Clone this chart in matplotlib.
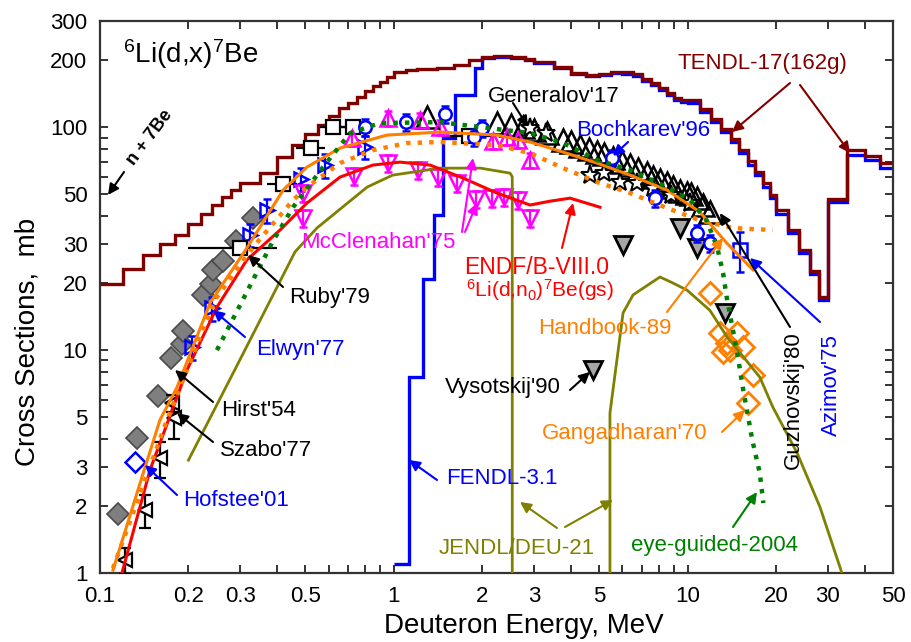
import numpy as np
import matplotlib
matplotlib.use('Agg')
import matplotlib.pyplot as plt
from matplotlib.ticker import FixedLocator, FixedFormatter, NullFormatter

plt.rcParams['font.family'] = ['Liberation Sans', 'DejaVu Sans']
plt.rcParams['mathtext.fontset'] = 'custom'
plt.rcParams['mathtext.rm'] = 'Liberation Sans'
plt.rcParams['mathtext.it'] = 'Liberation Sans:italic'
plt.rcParams['mathtext.bf'] = 'Liberation Sans:bold'
plt.rcParams['mathtext.default'] = 'rm'

# ---------------- evaluated libraries (histograms) ----------------
tendl_edges = [0.10, 0.12, 0.14, 0.16, 0.18, 0.20, 0.22, 0.24, 0.26, 0.28, 0.30,
               0.35, 0.40, 0.45, 0.50, 0.55, 0.60, 0.65, 0.70, 0.75, 0.80, 0.85, 0.90, 0.95, 1.0,
               1.1, 1.2, 1.4, 1.6, 1.8, 2.0,
               2.2, 2.5, 2.8, 3.0,
               3.5, 4.0, 4.5, 5.0, 5.5, 6.0, 6.5, 7.0, 7.5, 8.0, 8.5, 9.0, 9.5, 10,
               11, 12, 13, 14, 15, 16, 17, 18, 19, 20,
               22, 24, 26, 28, 30,
               35, 40, 45, 50]
tendl_vals = [19.8, 23.1, 26.7, 29.9, 32.8, 36.8, 40.8, 44.8, 48.6, 52.3,
              56.2, 62.5, 73.5, 83.2, 93.2, 102, 112, 122, 128, 137, 145, 153, 160, 168,
              177, 181, 183, 184, 190, 200,
              206, 208, 206, 202,
              196, 186, 175, 172, 174, 177, 177, 174, 164, 158, 150, 142, 135, 133,
              132, 121, 109, 98, 88.5, 79, 70.5, 63, 56, 49.6,
              42.5, 34.6, 28.1, 22.6, 17.3,
              47.6, 79, 74, 69]

fendl_edges = [1.0, 1.13, 1.26, 1.37, 1.47, 1.62, 1.89, 2.0,
               2.2, 2.5, 2.8, 3.0,
               3.5, 4.0, 4.5, 5.0, 5.5, 6.0, 6.5, 7.0, 7.5, 8.0, 8.5, 9.0, 9.5, 10,
               11, 12, 13, 14, 15, 16, 17, 18, 19, 20,
               22, 24, 26, 28, 30,
               35, 40, 45, 50]
fendl_vals = [1.1, 7.6, 20.8, 40.4, 90, 139, 184,
              205, 207, 205, 201,
              195, 185, 173, 170, 172, 175, 174, 170, 161, 155, 147, 139, 132, 130,
              128, 117, 106, 95, 86, 76.5, 68, 61, 54, 48,
              41, 33.5, 27.2, 21.9, 16.8,
              46.3, 75, 71, 66]

# ---------------- evaluated / guided curves ----------------
jendl_e1 = [0.20, 0.30, 0.461, 0.547, 0.811, 0.99, 1.436, 1.97, 2.486, 2.53, 2.53]
jendl_s1 = [3.21, 9.1, 27.6, 35.3, 53.9, 61.0, 65.6, 65.6, 62.3, 60.0, 0.5]
jendl_e2 = [5.44, 5.44, 6.03, 6.52, 8.05, 8.92, 9.95, 11.9, 13.6, 17.6, 19.5, 23.6, 28.2, 33.5, 36.0]
jendl_s2 = [0.5, 5.22, 14.7, 17.7, 21.3, 20.0, 18.6, 15.1, 11.5, 7.57, 5.55, 3.45, 1.98, 1.0, 0.8]

endf_e = [0.1188, 0.148, 0.1977, 0.25, 0.316, 0.41, 0.506, 0.656, 0.849, 1.05, 1.328,
          1.72, 2.245, 2.91, 3.4, 3.98, 5.03]
endf_s = [1.0, 2.9, 8.14, 15.6, 25.4, 34.6, 45.7, 59.8, 67.7, 69.8, 67.7,
          59.2, 50.7, 44.8, 46.6, 48.1, 43.8]

handbook_e = [0.1107, 0.139, 0.16, 0.183, 0.237, 0.316, 0.42, 0.506, 0.656, 0.948, 1.436,
              2.245, 2.91, 3.77, 4.92, 6.37, 8.51, 11.0, 13.6, 16.7]
handbook_s = [1.03, 2.70, 4.86, 6.83, 16.3, 28.7, 52.3, 66.3, 80.7, 92.3, 95.2,
              92.3, 85.9, 77.4, 69.1, 61.0, 52.3, 41.7, 30.2, 22.9]

dotted_e = [0.1107, 0.169, 0.246, 0.332, 0.454, 0.506, 0.656, 0.849, 1.109, 1.436,
            2.245, 2.91, 3.77, 4.92, 6.37, 8.51, 11.0, 14.3, 19.5]
dotted_s = [1.05, 4.86, 16.8, 29.0, 47.1, 53.9, 69.1, 79.0, 85.0, 85.9,
            83.2, 76.6, 65.6, 56.8, 50.7, 43.4, 38.3, 35.3, 34.6]

eye_e = [0.25, 0.388, 0.454, 0.574, 0.71, 0.897, 1.436, 2.91, 3.77, 4.92, 6.37, 8.51,
         10.2, 11.6, 12.6, 13.2, 13.6, 14.7, 15.4, 16.6, 17.6, 18.1]
eye_s = [10.0, 30.9, 43.8, 66.3, 94.2, 104.5, 105.5, 94.2, 85.0, 71.3, 64.3, 53.9,
         47.1, 38.3, 29.0, 22.2, 17.1, 10.0, 6.83, 3.95, 2.81, 2.06]

# ---------------- experimental data ----------------
hirst_e = [0.1152, 0.1336, 0.1576, 0.1745, 0.190, 0.1915, 0.224, 0.2387, 0.2425, 0.2622, 0.2903, 0.332]
hirst_s = [1.84, 4.03, 6.22, 9.2, 10.65, 12.2, 17.7, 19.8, 22.9, 25.1, 30.9, 39.1]

szabo_e = [0.122, 0.1423, 0.160, 0.176, 0.178]
szabo_s = [1.14, 1.92, 3.28, 5.8, 4.95]
szabo_err = [0.15, 0.33, 0.6, 0.5, 0.95]

hofstee_e = [0.1316]
hofstee_s = [3.15]

elwyn_e = [0.206, 0.241, 0.324, 0.37, 0.485, 0.583, 0.798]
elwyn_s = [10.3, 15.4, 33.0, 42.5, 58.6, 67.5, 81.5]

ruby_e = [0.30, 0.42, 0.523, 0.621, 0.727, 1.80]
ruby_s = [28.7, 55.6, 80.7, 100.0, 100.0, 91.0]
ruby_xerr = [0.10, 0.05, 0.06, 0.06, 0.12, 0.35]

mcc_up_e = [0.72, 0.956, 1.228, 1.436, 2.175, 2.43, 2.65, 2.91]
mcc_up_s = [89.4, 110, 107.7, 100, 86.7, 90.4, 87.6, 71.3]

mcc_dn_e = [0.49, 0.49, 0.73, 0.956, 1.21, 1.41, 1.64, 1.905, 2.16, 2.38, 2.65, 2.91]
mcc_dn_s = [50.7, 39.1, 60.3, 69.0, 64.3, 59.8, 56.2, 47.6, 48.0, 48.5, 47.1, 39.1]

boch_e = [0.798, 1.10, 1.494, 1.875, 2.0, 5.53, 7.74, 10.76, 11.9]
boch_s = [100.2, 105.5, 114.6, 90.4, 99.2, 72.8, 48.1, 33.5, 30.2]

azimov_e = [15.1]
azimov_s = [28.1]

guzh_e = [1.297, 2.245, 2.5, 2.754, 3.0, 3.32, 3.77, 4.0, 4.30, 4.6, 4.92, 5.2, 5.57, 6.0, 6.37,
          6.8, 7.28, 7.6, 8.05, 8.5, 8.92, 9.4, 9.95, 10.3, 10.76, 11.3, 11.9]
guzh_s = [111, 104.5, 102, 100, 97, 94.2, 87.6, 86, 82.4, 80, 77.4, 76, 72.8, 70, 67.7,
          65, 62.3, 60, 58, 56, 53.9, 52, 50.7, 50, 48.1, 45, 41.7]

gener_e = [2.91, 3.3, 4.66, 5.2, 5.87, 6.7, 7.6, 8.8, 10.2]
gener_s = [99.2, 94, 61, 62.3, 56.8, 56.2, 53.3, 49.6, 45.7]

vys_e = [4.76, 6.03, 9.42, 10.76, 13.4]
vys_s = [8.14, 29.6, 35.3, 28.7, 14.7]

gang_e = [11.92, 12.9, 14.7, 13.6, 15.4, 13.2, 13.9, 16.7, 16.05]
gang_s = [18.0, 11.9, 12.0, 10.8, 10.3, 9.8, 10.0, 7.73, 5.79]

xtick_vals = [0.1, 0.2, 0.3, 0.5, 1, 2, 3, 5, 10, 20, 30, 50]
xtick_labels = ['0.1', '0.2', '0.3', '0.5', '1', '2', '3', '5', '10', '20', '30', '50']
ytick_vals = [1, 2, 3, 5, 10, 20, 30, 50, 100, 200, 300]
ytick_labels = ['1', '2', '3', '5', '10', '20', '30', '50', '100', '200', '300']

# ---------------- figure ----------------
W, H = 912, 642
fig = plt.figure(figsize=(W / 100, H / 100), dpi=100)
L, R, T, B = 100, 893, 21, 573
ax = fig.add_axes([L / W, (H - B) / H, (R - L) / W, (B - T) / H])
ax.set_xscale('log')
ax.set_yscale('log')
ax.set_xlim(0.1, 50)
ax.set_ylim(1, 300)

RED = '#ff0000'
ORANGE = '#ff8000'
GREEN = '#008000'
OLIVE = '#808000'
MAROON = '#800000'
BLUE = '#0000ff'
MAG = '#ff00ff'

# histograms
ax.stairs(fendl_vals, fendl_edges, color=BLUE, lw=2.4, baseline=None, zorder=2)
ax.stairs(tendl_vals, tendl_edges, color=MAROON, lw=2.4, baseline=None, zorder=2.1)

# curves
ax.plot(jendl_e1, jendl_s1, color=OLIVE, lw=2.0, zorder=4)
ax.plot(jendl_e2, jendl_s2, color=OLIVE, lw=2.0, zorder=4)
ax.plot(endf_e, endf_s, color=RED, lw=2.2, zorder=4)
ax.plot(handbook_e, handbook_s, color=ORANGE, lw=2.2, zorder=4)
ax.plot(dotted_e, dotted_s, color=ORANGE, lw=3.2, ls=(0, (1, 1.6)), zorder=4)
ax.plot(eye_e, eye_s, color=GREEN, lw=3.2, ls=(0, (1, 1.6)), zorder=4)

# experimental points
ax.plot(hirst_e, hirst_s, ls='none', marker='D', ms=11, mfc='#7f7f7f', mec='#4a4a4a', mew=1.2, zorder=3)
ax.errorbar(szabo_e, szabo_s, yerr=szabo_err, fmt='<', ms=10, mfc='white', mec='black', mew=1.6,
            ecolor='black', elinewidth=1.6, capsize=4, zorder=3)
ax.plot(hofstee_e, hofstee_s, ls='none', marker='D', ms=10, mfc='white', mec=BLUE, mew=1.8, zorder=3)
ax.errorbar(elwyn_e, elwyn_s, yerr=np.array(elwyn_s) * 0.12, fmt='>', ms=10, mfc='none', mec=BLUE,
            mew=1.8, ecolor=BLUE, elinewidth=1.6, capsize=3, zorder=3)
ax.errorbar(ruby_e, ruby_s, xerr=ruby_xerr, fmt='s', ms=10, mfc='white', mec='black', mew=1.6,
            ecolor='black', elinewidth=1.6, capsize=0, zorder=3)
ax.errorbar(mcc_up_e, mcc_up_s, yerr=np.array(mcc_up_s) * 0.08, fmt='^', ms=11, mfc='none', mec=MAG,
            mew=1.8, ecolor=MAG, elinewidth=1.6, capsize=3, zorder=3)
ax.errorbar(mcc_dn_e, mcc_dn_s, yerr=np.array(mcc_dn_s) * 0.09, fmt='v', ms=11, mfc='none', mec=MAG,
            mew=1.8, ecolor=MAG, elinewidth=1.6, capsize=3, zorder=3)
ax.plot(guzh_e, guzh_s, ls='none', marker='^', ms=16, mfc='none', mec='black', mew=1.8, zorder=3)
ax.plot(gener_e, gener_s, ls='none', marker='*', ms=14, mfc='white', mec='black', mew=1.5, zorder=3.2)
ax.errorbar(boch_e, boch_s, yerr=np.array(boch_s) * 0.09, fmt='o', ms=9, mfc='white', mec=BLUE, mew=1.8,
            ecolor=BLUE, elinewidth=1.6, capsize=3, zorder=3.3)
ax.errorbar(azimov_e, azimov_s, yerr=[[5.7], [5.8]], fmt='s', ms=10, mfc='none', mec=BLUE, mew=1.8,
            ecolor=BLUE, elinewidth=1.6, capsize=3, zorder=3.3)
ax.plot(vys_e, vys_s, ls='none', marker='v', ms=13, mfc='#a6a6a6', mec='black', mew=2.0, zorder=3)
ax.plot(gang_e, gang_s, ls='none', marker='D', ms=11, mfc='none', mec=ORANGE, mew=2.0, zorder=3)

# ---------------- axes styling ----------------
minor_x = [v * d for d in (0.1, 1, 10) for v in range(2, 10) if v * d <= 50]
ax.xaxis.set_major_locator(FixedLocator(xtick_vals))
ax.xaxis.set_major_formatter(FixedFormatter(xtick_labels))
ax.xaxis.set_minor_locator(FixedLocator([m for m in minor_x if m not in xtick_vals]))
ax.xaxis.set_minor_formatter(NullFormatter())
ax.yaxis.set_major_locator(FixedLocator(ytick_vals))
ax.yaxis.set_major_formatter(FixedFormatter(ytick_labels))
minor_y = [v * d for d in (1, 10, 100) for v in range(2, 10) if v * d <= 300]
ax.yaxis.set_minor_locator(FixedLocator([m for m in minor_y if m not in ytick_vals]))
ax.yaxis.set_minor_formatter(NullFormatter())
ax.tick_params(which='both', direction='in', top=True, right=True, width=1.4, color='#333333',
               labelsize=16)
ax.tick_params(axis='x', which='major', pad=9)
ax.tick_params(axis='y', which='major', pad=9)
ax.tick_params(which='major', length=6)
ax.tick_params(which='minor', length=6)
for t in ax.xaxis.get_major_ticks():
    if t.get_loc() in (1, 10):
        t.tick1line.set_markersize(10)
        t.tick2line.set_markersize(10)
for t in ax.yaxis.get_major_ticks():
    if t.get_loc() in (10, 100):
        t.tick1line.set_markersize(10)
        t.tick2line.set_markersize(10)
for s in ax.spines.values():
    s.set_linewidth(1.6)
    s.set_color('#333333')

fig.text(524 / W, 1 - 626 / H, 'Deuteron Energy, MeV', fontsize=20, ha='center', va='center')
fig.text(28 / W, 1 - 342 / H, 'Cross Sections,  mb', fontsize=20, ha='center', va='center',
         rotation=90)


def P(x, y):
    return ((x - L) / (R - L), (B - y) / (B - T))


ax.text(*P(123, 54), r'$^{6}$Li(d,x)$^{7}$Be', transform=ax.transAxes, fontsize=20,
        ha='left', va='center')

labels = [
    ("TENDL-17(162g)", (762, 63), MAROON, 16, 0, [((790, 83), (732, 132)), ((800, 85), (850, 153))]),
    ("Generalov'17", (554, 96), 'black', 16, 0, [((513, 103), (528, 127))]),
    ("Bochkarev'96", (643, 130), BLUE, 16, 0, [((628, 142), (613, 156))]),
    ("McClenahan'75", (378, 242), MAG, 16, 0, [((462, 232), (473, 158)), ((465, 232), (477, 203))]),
    ("ENDF/B-VIII.0", (537, 267), RED, 16.5, 0, [((562, 248), (573, 203))]),
    ("Ruby'79", (330, 298), 'black', 16, 0, [((283, 287), (248, 255))]),
    ("Elwyn'77", (300, 349), BLUE, 16, 0, [((245, 337), (213, 310))]),
    ("Hirst'54", (259, 410), 'black', 16, 0, [((213, 402), (175, 370))]),
    ("Szabo'77", (266, 450), 'black', 16, 0, [((213, 442), (177, 413))]),
    ("Hofstee'01", (236, 500), BLUE, 16, 0, [((177, 495), (145, 465))]),
    ("FENDL-3.1", (502, 479), BLUE, 16, 0, [((437, 480), (409, 460))]),
    ("JENDL/DEU-21", (517, 548), OLIVE, 16, 0, [((557, 528), (520, 502)), ((565, 527), (613, 500))]),
    ("eye-guided-2004", (715, 545), GREEN, 16, 0, [((733, 527), (757, 492))]),
    ("Gangadharan'70", (625, 433), ORANGE, 16, 0, [((722, 432), (745, 410))]),
    ("Handbook-89", (605, 328), ORANGE, 16, 0, [((667, 312), (723, 238))]),
    ("Vysotskij'90", (503, 387), 'black', 16, 0, [((570, 390), (590, 372))]),
    ("Guzhovskij'80", (793, 400), 'black', 16, 90, [((790, 327), (720, 213))]),
    ("Azimov'75", (831, 385), BLUE, 16, 90, [((820, 322), (750, 258))]),
]
for txt, pos, col, fs, rot, arrows in labels:
    ax.text(*P(*pos), txt, transform=ax.transAxes, color=col, fontsize=fs, rotation=rot,
            ha='center', va='center', zorder=6)
    for a0, a1 in arrows:
        ax.annotate('', xy=P(*a1), xycoords='axes fraction', xytext=P(*a0), textcoords='axes fraction',
                    arrowprops=dict(arrowstyle='-|>', color=col, lw=1.5, mutation_scale=16,
                                    shrinkA=0, shrinkB=0), zorder=6)

ax.text(*P(540, 290), r'$^{6}$Li(d,n$_{0}$)$^{7}$Be(gs)', transform=ax.transAxes, color=RED,
        fontsize=15, ha='center', va='center', zorder=6)

ax.text(*P(150, 138), 'n + 7Be', transform=ax.transAxes, color='black', fontsize=13,
        fontweight='bold', rotation=53, ha='center', va='center', zorder=6)
ax.annotate('', xy=P(108, 195), xycoords='axes fraction', xytext=P(124, 172), textcoords='axes fraction',
            arrowprops=dict(arrowstyle='-|>', color='black', lw=1.5, mutation_scale=16,
                            shrinkA=0, shrinkB=0), zorder=6)

fig.savefig('out.png', dpi=100)
